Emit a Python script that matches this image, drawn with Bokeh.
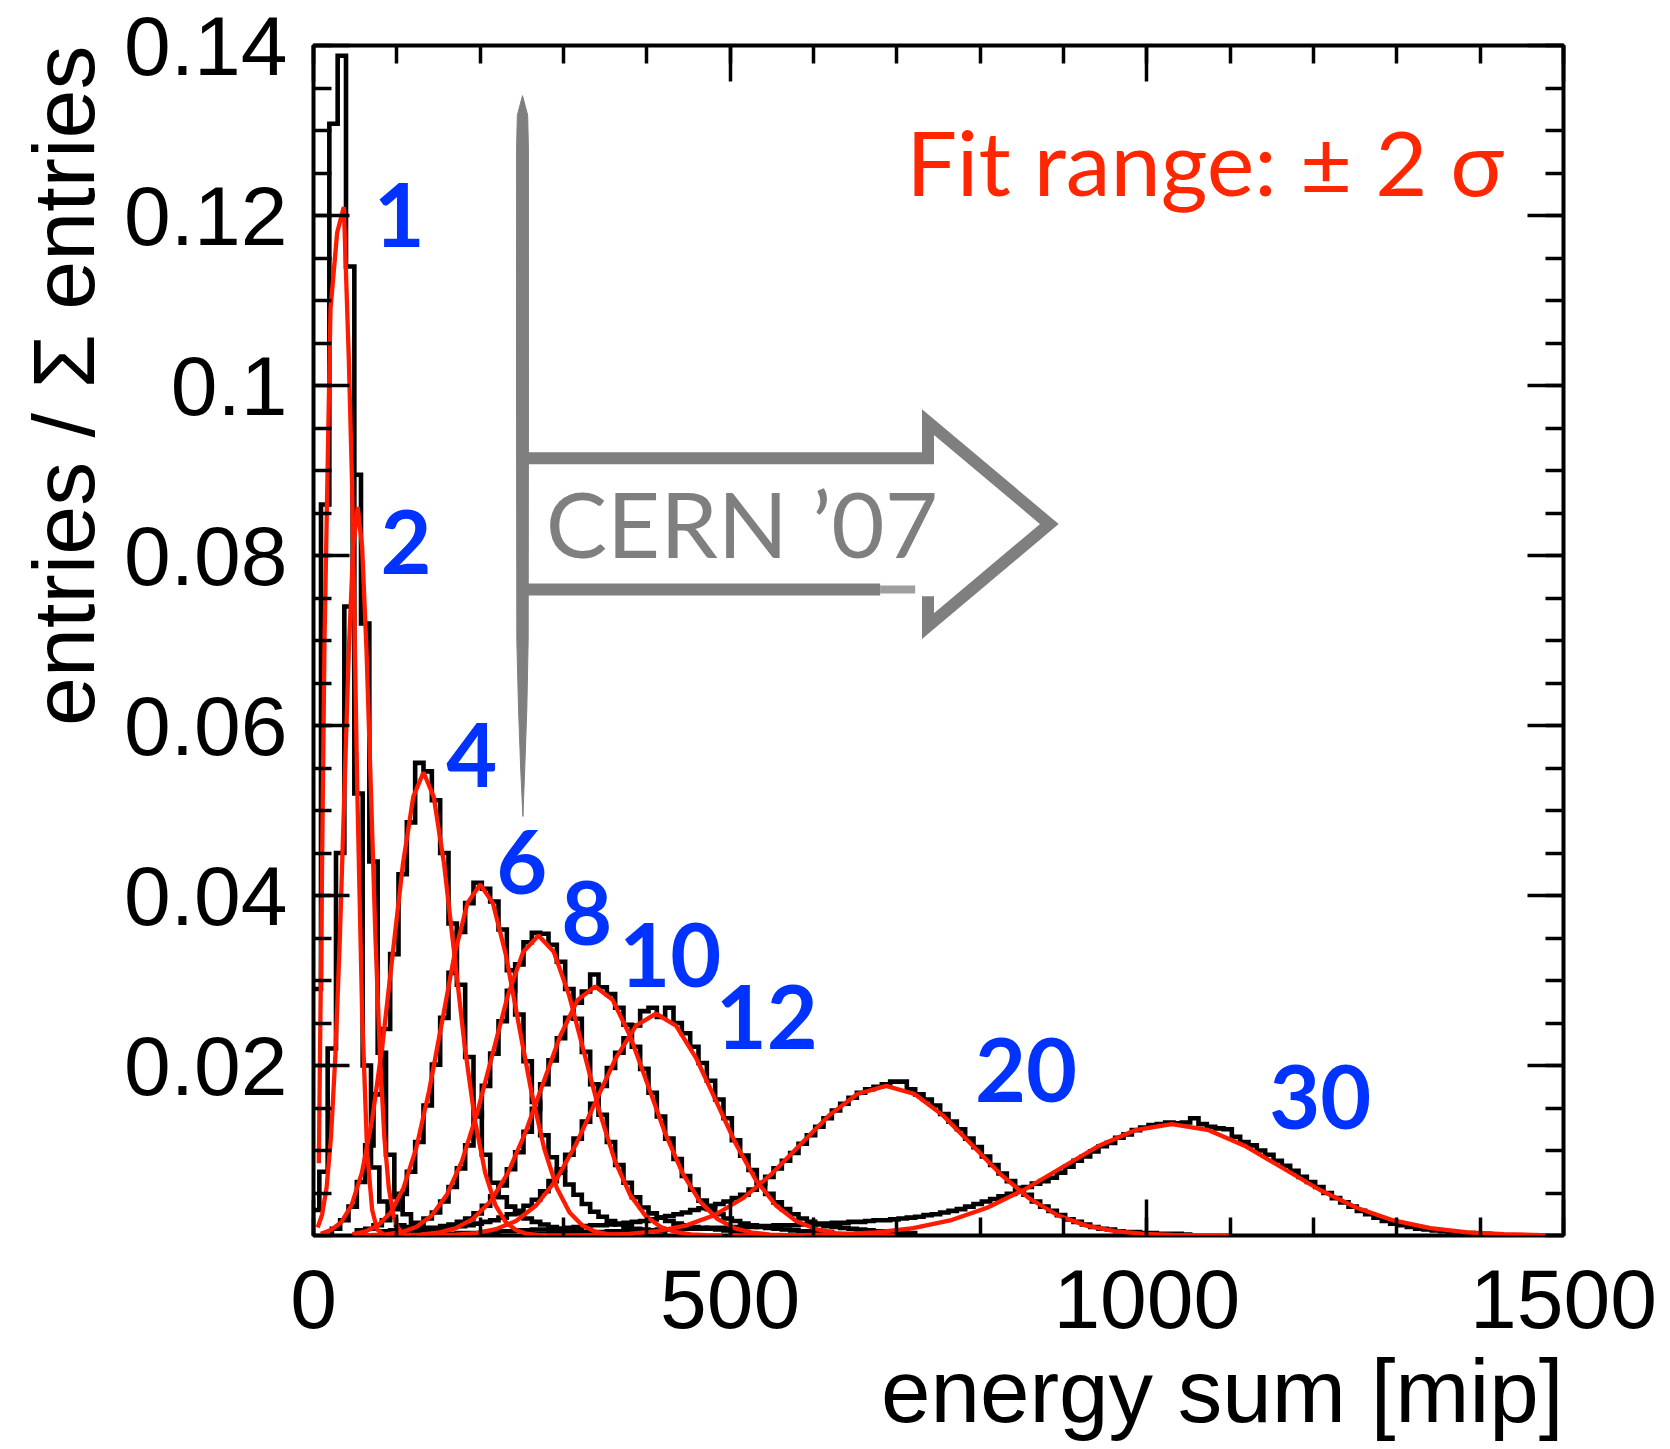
import math
from bokeh.plotting import figure
from bokeh.models import LinearAxis, FixedTicker, Label, Range1d, Title
from bokeh.embed import file_html
from bokeh.resources import INLINE

# ------------------------------------------------------------------ data
beam_energy_labels = ["1", "2", "4", "6", "8", "10", "12", "20", "30"]
bin_width = 10.0
hist_start = [-1, -3, 22, 52, 82, 102, 122, 152, 252]

hist_1 = [0.0290, 0.0860, 0.1308, 0.1388, 0.1140, 0.0520, 0.0200, 0.0080, 0.0040,
          0.0022, 0.0012, 0.0007, 0.0004]
hist_2 = [0.0030, 0.0075, 0.0220, 0.0450, 0.0740, 0.0895, 0.0720, 0.0440, 0.0215,
          0.0095, 0.0045, 0.0025, 0.0015, 0.0009, 0.0005]
hist_4 = [0.0008, 0.0018, 0.0034, 0.0063, 0.0106, 0.0166, 0.0243, 0.0331, 0.0425,
          0.0486, 0.0556, 0.0546, 0.0512, 0.0450, 0.0367, 0.0295, 0.0210, 0.0145,
          0.0095, 0.0062, 0.0045, 0.0034, 0.0026, 0.0020, 0.0016, 0.0013, 0.0010,
          0.0008, 0.0006, 0.0005, 0.0004]
hist_6 = [0.0006, 0.0008, 0.0012, 0.0018, 0.0031, 0.0049, 0.0075, 0.0110, 0.0153,
          0.0201, 0.0256, 0.0309, 0.0357, 0.0391, 0.0415, 0.0408, 0.0393, 0.0360,
          0.0312, 0.0260, 0.0205, 0.0157, 0.0118, 0.0092, 0.0074, 0.0060, 0.0048,
          0.0037, 0.0028, 0.0022, 0.0017, 0.0013, 0.0010, 0.0008, 0.0007, 0.0006,
          0.0005]
hist_8 = [0.0005, 0.0006, 0.0008, 0.0010, 0.0014, 0.0020, 0.0027, 0.0040, 0.0057,
          0.0079, 0.0106, 0.0140, 0.0176, 0.0214, 0.0252, 0.0288, 0.0319, 0.0345,
          0.0356, 0.0355, 0.0342, 0.0322, 0.0290, 0.0255, 0.0216, 0.0178, 0.0142,
          0.0110, 0.0083, 0.0062, 0.0045, 0.0033, 0.0026, 0.0021, 0.0017, 0.0014,
          0.0012, 0.0010, 0.0009, 0.0008, 0.0007, 0.0006, 0.0005, 0.0004]
hist_10 = [0.0005, 0.0006, 0.0007, 0.0008, 0.0009, 0.0011, 0.0013, 0.0016, 0.0020,
           0.0026, 0.0035, 0.0046, 0.0059, 0.0078, 0.0098, 0.0122, 0.0149, 0.0178,
           0.0206, 0.0232, 0.0256, 0.0274, 0.0287, 0.0307, 0.0292, 0.0284, 0.0268,
           0.0248, 0.0222, 0.0196, 0.0168, 0.0140, 0.0114, 0.0090, 0.0070, 0.0054,
           0.0041, 0.0031, 0.0025, 0.0020, 0.0017, 0.0014, 0.0012, 0.0010, 0.0009,
           0.0008, 0.0007, 0.0006, 0.0005, 0.0005, 0.0004, 0.0004]
hist_12 = [0.0006, 0.0007, 0.0008, 0.0009, 0.0010, 0.0011, 0.0012, 0.0014, 0.0016,
           0.0018, 0.0021, 0.0025, 0.0029, 0.0035, 0.0042, 0.0052, 0.0064, 0.0078,
           0.0095, 0.0114, 0.0134, 0.0155, 0.0176, 0.0197, 0.0215, 0.0232, 0.0247,
           0.0264, 0.0268, 0.0257, 0.0268, 0.0250, 0.0238, 0.0222, 0.0203, 0.0182,
           0.0160, 0.0138, 0.0112, 0.0094, 0.0077, 0.0062, 0.0049, 0.0039, 0.0031,
           0.0025, 0.0020, 0.0016, 0.0013, 0.0011, 0.0010, 0.0009, 0.0008, 0.0007,
           0.0006, 0.0005, 0.0005, 0.0004, 0.0004, 0.0003]
hist_20 = [0.0002, 0.0002, 0.0003, 0.0003, 0.0003, 0.0004, 0.0004, 0.0005, 0.0005,
           0.0006, 0.0006, 0.0007, 0.0007, 0.0008, 0.0008, 0.0009, 0.0010, 0.0011,
           0.0012, 0.0012, 0.0013, 0.0014, 0.0015, 0.0016, 0.0017, 0.0019, 0.0021,
           0.0023, 0.0025, 0.0027, 0.0030, 0.0032, 0.0035, 0.0037, 0.0040, 0.0044,
           0.0048, 0.0054, 0.0061, 0.0069, 0.0079, 0.0088, 0.0097, 0.0108, 0.0118,
           0.0128, 0.0138, 0.0147, 0.0155, 0.0162, 0.0168, 0.0172, 0.0175, 0.0178,
           0.0181, 0.0181, 0.0172, 0.0166, 0.0160, 0.0153, 0.0143, 0.0134, 0.0125,
           0.0114, 0.0104, 0.0093, 0.0083, 0.0073, 0.0064, 0.0056, 0.0048, 0.0040,
           0.0034, 0.0029, 0.0024, 0.0019, 0.0016, 0.0013, 0.0010, 0.0008, 0.0007,
           0.0005, 0.0004, 0.0004, 0.0003, 0.0003, 0.0002, 0.0002, 0.0002, 0.0001]
hist_30 = [0.0002, 0.0002, 0.0002, 0.0003, 0.0003, 0.0003, 0.0003, 0.0004, 0.0004,
           0.0004, 0.0005, 0.0005, 0.0005, 0.0006, 0.0006, 0.0006, 0.0007, 0.0007,
           0.0007, 0.0008, 0.0008, 0.0008, 0.0009, 0.0009, 0.0009, 0.0010, 0.0010,
           0.0010, 0.0011, 0.0011, 0.0012, 0.0012, 0.0012, 0.0013, 0.0013, 0.0014,
           0.0014, 0.0015, 0.0015, 0.0016, 0.0016, 0.0017, 0.0018, 0.0018, 0.0019,
           0.0020, 0.0021, 0.0022, 0.0024, 0.0025, 0.0027, 0.0029, 0.0031, 0.0034,
           0.0037, 0.0040, 0.0043,
           0.0046, 0.0049, 0.0053, 0.0057, 0.0061, 0.0064, 0.0068, 0.0074, 0.0081,
           0.0088, 0.0093, 0.0099, 0.0105, 0.0109, 0.0115, 0.0119, 0.0124, 0.0127,
           0.0130, 0.0131, 0.0133, 0.0132, 0.0133, 0.0138, 0.0131, 0.0128, 0.0126,
           0.0125, 0.0116, 0.0110, 0.0106, 0.0100, 0.0095, 0.0088, 0.0082, 0.0076,
           0.0069, 0.0063, 0.0057, 0.0050, 0.0044, 0.0039, 0.0034, 0.0029, 0.0025,
           0.0021, 0.0017, 0.0014, 0.0012,
           0.0010, 0.0008, 0.0007, 0.0006, 0.0005, 0.0004, 0.0003, 0.0003, 0.0002,
           0.0002, 0.0001]

# fitted curves (red)
fit_1_x = [6.4, 13.2, 20.4, 28.4, 36.4, 42.4, 46.4, 52.4, 58.4, 64.4, 70.4, 76.4, 84.4]
fit_1_y = [0.0085, 0.070, 0.109, 0.118, 0.121, 0.103, 0.088, 0.053, 0.026, 0.0098,
           0.003, 0.0007, 0.0001]
fit_2_x = [5, 10.3, 15.7, 21, 26.3, 31.7, 37, 42.3, 47.7, 53, 58.3, 63.7, 69, 74.3,
           79.7, 85, 90.3, 95.7, 101, 106.3, 111.7, 117]
fit_2_y = [0.00095, 0.00245, 0.00563, 0.0116, 0.0213, 0.0352, 0.0520, 0.0686, 0.0811,
           0.0857, 0.0811, 0.0686, 0.0520, 0.0352, 0.0213, 0.0116, 0.00563, 0.00245,
           0.00095, 0.00033, 0.0001, 0.00003]
fit_4_x = [8.7, 21, 33.3, 45.7, 58, 70.3, 82.7, 95, 107.3, 119.7, 132, 144.3, 156.7,
           169, 181.3, 193.7, 206, 218.3, 230.7, 243, 255.3, 267.7, 280]
fit_4_y = [0.00021, 0.00065, 0.00156, 0.00358, 0.00737, 0.01357, 0.0224, 0.0331,
           0.0437, 0.0516, 0.0545, 0.0516, 0.0437, 0.0331, 0.0224, 0.01357, 0.00737,
           0.00358, 0.00156, 0.00065, 0.00021, 0.000065, 0.000018]
fit_6_x = [46.7, 62, 77.3, 92.7, 108, 123.3, 138.7, 154, 169.3, 184.7, 200, 215.3,
           230.7, 246, 261.3, 276.7, 292, 307.3, 322.7, 338, 353.3, 368.7, 384]
fit_6_y = [0.00016, 0.00046, 0.00118, 0.00271, 0.00559, 0.01028, 0.0170, 0.0250,
           0.0331, 0.0391, 0.0413, 0.0391, 0.0331, 0.0250, 0.0170, 0.01028, 0.00559,
           0.00271, 0.00118, 0.00046, 0.00016, 0.00005, 0.000014]
fit_8_x = [50, 68.3, 86.7, 105, 123.3, 141.7, 160, 178.3, 196.7, 215, 233.3, 251.7,
           270, 288.3, 306.7, 325, 343.3, 361.7, 380, 398.3, 416.7, 435, 453.3, 471.7, 490]
fit_8_y = [0.000012, 0.000042, 0.000137, 0.00039, 0.00101, 0.00232, 0.00478, 0.00879,
           0.01451, 0.02141, 0.02828, 0.03339, 0.0353, 0.03339, 0.02828, 0.02141,
           0.01451, 0.00879, 0.00478, 0.00232, 0.00101, 0.00039, 0.000137, 0.000042,
           0.000012]
fit_10_x = [86, 107, 128, 149, 170, 191, 212, 233, 254, 275, 296, 317, 338, 359, 380,
            401, 422, 443, 464, 485, 506, 527, 548, 569, 590]
fit_10_y = [0.00001, 0.000035, 0.000113, 0.000325, 0.00084, 0.00193, 0.00396, 0.0073,
            0.01204, 0.01777, 0.02347, 0.02772, 0.0293, 0.02772, 0.02347, 0.01777,
            0.01204, 0.0073, 0.00396, 0.00193, 0.00084, 0.000325, 0.000113, 0.000035,
            0.00001]
fit_12_x = [123, 147, 171, 195, 219, 243, 267, 291, 315, 339, 363, 387, 411, 435, 459,
            483, 507, 531, 555, 579, 603, 627, 651, 675, 699]
fit_12_y = [0.0000087, 0.000031, 0.000101, 0.00029, 0.00075, 0.00171, 0.00353, 0.0065,
            0.01073, 0.01583, 0.02091, 0.02469, 0.0261, 0.02469, 0.02091, 0.01583,
            0.01073, 0.0065, 0.00353, 0.00171, 0.00075, 0.00029, 0.000101, 0.000031,
            0.0000087]
fit_20_x = [275, 309.3, 343.7, 378, 412.3, 446.7, 481, 515.3, 549.7, 584, 618.3, 652.7,
            687, 721.3, 755.7, 790, 824.3, 858.7, 893, 927.3, 961.7, 996, 1030.3,
            1064.7, 1099]
fit_20_y = [0.0000059, 0.000021, 0.000068, 0.000195, 0.000503, 0.00116, 0.00238,
            0.00438, 0.00723, 0.01067, 0.0141, 0.01665, 0.0176, 0.01665, 0.0141,
            0.01067, 0.00723, 0.00438, 0.00238, 0.00116, 0.000503, 0.000195, 0.000068,
            0.000021, 0.0000059]
fit_30_x = [498, 542.3, 586.7, 631, 675.3, 719.7, 764, 808.3, 852.7, 897, 941.3, 985.7,
            1030, 1074.3, 1118.7, 1163, 1207.3, 1251.7, 1296, 1340.3, 1384.7, 1429,
            1473.3, 1517.7, 1562]
fit_30_y = [0.0000044, 0.0000157, 0.0000507, 0.000145, 0.000375, 0.00086, 0.00177,
            0.00326, 0.00538, 0.00794, 0.01049, 0.01239, 0.0131, 0.01239, 0.01049,
            0.00794, 0.00538, 0.00326, 0.00177, 0.00086, 0.000375, 0.000145, 0.0000507,
            0.0000157, 0.0000044]

hists = [hist_1, hist_2, hist_4, hist_6, hist_8, hist_10, hist_12, hist_20, hist_30]
fits_x = [fit_1_x, fit_2_x, fit_4_x, fit_6_x, fit_8_x, fit_10_x, fit_12_x, fit_20_x, fit_30_x]
fits_y = [fit_1_y, fit_2_y, fit_4_y, fit_6_y, fit_8_y, fit_10_y, fit_12_y, fit_20_y, fit_30_y]

x_ticks = [0, 500, 1000, 1500]
x_tick_labels = ["0", "500", "1000", "1500"]
y_ticks = [0.02, 0.04, 0.06, 0.08, 0.1, 0.12, 0.14]
y_tick_labels = ["0.02", "0.04", "0.06", "0.08", "0.1", "0.12", "0.14"]

# ------------------------------------------------------------------ annotation placement
label_pos_x = [103, 111, 190, 250, 328, 428, 544, 855, 1208]
label_pos_y = [0.1201, 0.0816, 0.0565, 0.0440, 0.0380, 0.0330, 0.0257, 0.0195, 0.0163]

# ------------------------------------------------------------------ figure
p = figure(width=1670, height=1449, output_backend="svg", toolbar_location=None,
           x_range=Range1d(0, 1500), y_range=Range1d(0, 0.14),
           min_border_left=313, min_border_right=107, min_border_top=45,
           min_border_bottom=213)
p.background_fill_color = "white"
p.border_fill_color = "white"
p.outline_line_color = "black"
p.outline_line_width = 4
p.grid.visible = False

x_minor = [100 * i for i in range(16)]
y_minor = [round(0.005 * i, 4) for i in range(29)]
TICK_FONT = "Liberation Sans"


def style_axis(ax, ticks, minor, labels, show_labels):
    ax.ticker = FixedTicker(ticks=ticks, minor_ticks=minor)
    ax.axis_line_color = None
    ax.major_tick_in = 36
    ax.major_tick_out = 0
    ax.minor_tick_in = 18
    ax.minor_tick_out = 0
    ax.major_tick_line_width = 3.5
    ax.minor_tick_line_width = 3.5
    ax.major_tick_line_color = "black"
    ax.minor_tick_line_color = "black"
    if show_labels:
        ax.major_label_overrides = {t: s for t, s in zip(ticks, labels)}
        ax.major_label_text_font = TICK_FONT
        ax.major_label_text_font_size = "84px"
        ax.major_label_text_color = "black"
    else:
        ax.major_label_overrides = {t: "" for t in ticks}
        ax.major_label_text_font_size = "10px"
        ax.major_label_standoff = 0


xa = p.xaxis[0]
ya = p.yaxis[0]
style_axis(xa, x_ticks, x_minor, x_tick_labels, True)
style_axis(ya, y_ticks, y_minor, y_tick_labels, True)
xa.major_label_standoff = 34
ya.major_label_standoff = 26

top = LinearAxis()
style_axis(top, x_ticks, x_minor, x_tick_labels, False)
p.add_layout(top, "above")
right = LinearAxis()
style_axis(right, y_ticks, y_minor, y_tick_labels, False)
p.add_layout(right, "right")

# axis titles
x_title = Title(text="energy sum [mip]", align="right", text_font=TICK_FONT,
                text_font_style="normal", text_font_size="89px", text_color="black",
                standoff=17)
p.add_layout(x_title, "below")
y_title = Title(text="entries / \u03a3 entries", align="right", text_font=TICK_FONT,
                text_font_style="normal", text_font_size="88px", text_color="black",
                standoff=18)
p.add_layout(y_title, "left")


def step_outline(start, vals):
    xs = [start]
    ys = [0.0]
    for i, v in enumerate(vals):
        l = start + i * bin_width
        xs += [l, l + bin_width]
        ys += [v, v]
    xs.append(start + len(vals) * bin_width)
    ys.append(0.0)
    return xs, ys


for s, h in zip(hist_start, hists):
    hx, hy = step_outline(s, h)
    p.line(hx, hy, line_color="black", line_width=4.6, line_join="miter")

for fx, fy in zip(fits_x, fits_y):
    p.line(fx, fy, line_color="#FF1A00", line_width=4.3)

# energy labels
for t, lx, ly in zip(beam_energy_labels, label_pos_x, label_pos_y):
    p.add_layout(Label(x=lx, y=ly, text=t, text_font="Lato", text_font_style="bold",
                       text_font_size="88px", text_color="#0033FF",
                       text_align="center", text_baseline="alphabetic"))

# fit range text
p.add_layout(Label(x=1070, y=0.1264, text="Fit range: \u00b1 2 \u03c3", text_font="Lato",
                   text_font_size="90px", text_color="#FF2600",
                   text_align="center", text_baseline="alphabetic"))

# CERN '07 arrow
GRAY = "#7F7F7F"
bar_x = [250.8, 257.0, 257.9, 258.0, 257.6, 256.0, 253.5, 251.3, 248.6, 246.0, 244.0,
         243.6, 243.7, 244.6]
bar_y = [0.1341, 0.1318, 0.1280, 0.1000, 0.0700, 0.0620, 0.0550, 0.0493, 0.0550,
         0.0620, 0.0700, 0.1000, 0.1280, 0.1318]
p.patch(bar_x, bar_y, fill_color=GRAY, line_color=GRAY, line_width=1)
p.line([250.8, 737.4, 737.4, 883.0, 737.4, 737.4],
       [0.09145, 0.09145, 0.0957, 0.0837, 0.0717, 0.0752],
       line_color=GRAY, line_width=12, line_join="miter", line_cap="butt")
p.line([250.8, 680.0], [0.0760, 0.0760], line_color=GRAY, line_width=12, line_cap="butt")
p.line([680.0, 722.0], [0.0760, 0.0760], line_color=GRAY, line_width=8, line_alpha=0.75)
p.add_layout(Label(x=514, y=0.0839, text="CERN \u201907", text_font="Lato",
                   text_font_size="92px", text_color=GRAY,
                   text_align="center", text_baseline="alphabetic"))

open("out.html", "w").write(file_html(p, INLINE))
